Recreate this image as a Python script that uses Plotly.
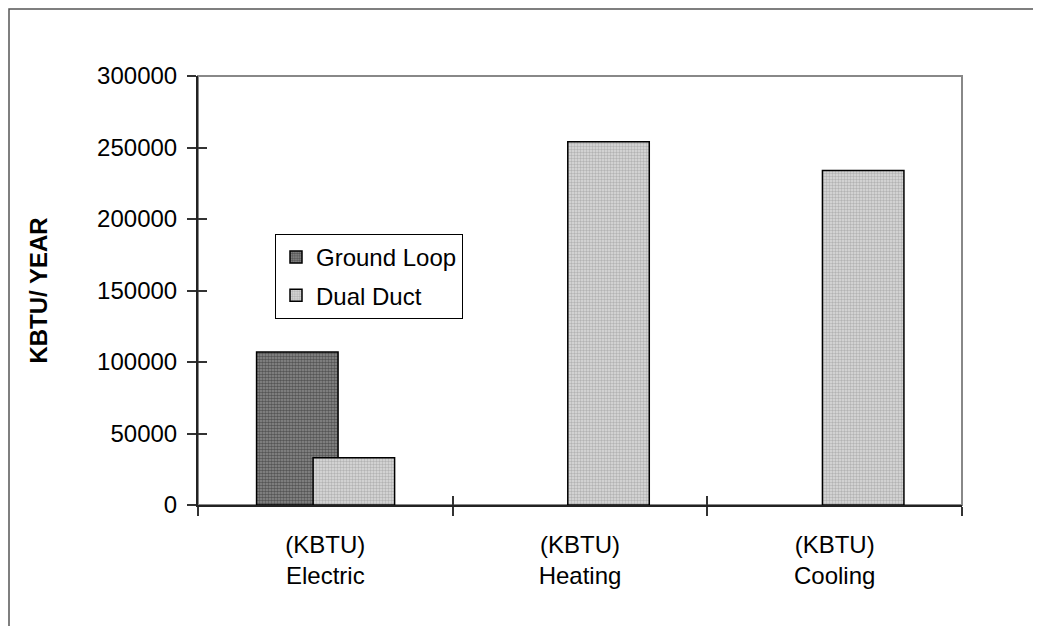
import plotly.graph_objects as go

categories = ["(KBTU)<br>Electric", "(KBTU)<br>Heating", "(KBTU)<br>Cooling"]
ground_loop = [107000, None, None]
dual_duct = [33000, 254000, 234000]
y_ticks = [0, 50000, 100000, 150000, 200000, 250000, 300000]

FONT = "Liberation Sans, Arial, sans-serif"

# plot area (figure px): left 190, right 954, top 68, bottom 497
L, R, T, B = 190, 954, 68, 497
PW, PH = R - L, B - T

fig = go.Figure()
fig.add_trace(go.Bar(
    x=categories, y=ground_loop, name="Ground Loop",
    width=0.32, offset=-0.27, legendgroup="g1",
    marker=dict(color="#6a6a6a", line=dict(color="black", width=1.5),
                pattern=dict(shape=".", size=3, solidity=0.55, fgcolor="#1e1e1e", bgcolor="#8c8c8c")),
))
fig.add_trace(go.Bar(
    x=categories, y=dual_duct, name="Dual Duct",
    width=0.32, offset=-0.048, legendgroup="g2",
    marker=dict(color="#c4c4c4", line=dict(color="black", width=1.5),
                pattern=dict(shape=".", size=3, solidity=0.5, fgcolor="#8a8a8a", bgcolor="#dcdcdc")),
))
# empty helper traces so the overlaying tick-only axes (cross ticks) get drawn
fig.add_trace(go.Scatter(x=[], y=[], xaxis="x2", yaxis="y", showlegend=False, hoverinfo="skip"))
fig.add_trace(go.Scatter(x=[], y=[], xaxis="x", yaxis="y2", showlegend=False, hoverinfo="skip"))

fig.update_layout(
    width=1041, height=626,
    margin=dict(l=L, r=1041 - R, t=T, b=626 - B, autoexpand=False),
    paper_bgcolor="white", plot_bgcolor="white",
    barmode="overlay",
    font=dict(family=FONT, size=24, color="black"),
    showlegend=True,
    legend=dict(x=(267 - L) / PW, y=(B - 226) / PH, xanchor="left", yanchor="top",
                bordercolor="black", borderwidth=1, bgcolor="white",
                traceorder="grouped", tracegroupgap=4,
                font=dict(family=FONT, size=24)),
    xaxis=dict(type="category", range=[-0.5, 2.5], tickson="boundaries",
               ticks="outside", ticklen=9, tickwidth=1.5, tickcolor="#333",
               showline=True, linecolor="#222", linewidth=2,
               showgrid=False, zeroline=False, ticklabelstandoff=17),
    xaxis2=dict(overlaying="x", type="linear", range=[-0.5, 2.5], tickvals=[-0.5, 0.5, 1.5, 2.5],
                ticks="inside", ticklen=9, tickwidth=1.5, tickcolor="#333",
                showticklabels=False, showline=False, showgrid=False, zeroline=False,
                anchor="y", side="bottom"),
    yaxis=dict(range=[0, 300000], tickvals=y_ticks, ticktext=[str(v) for v in y_ticks],
               ticks="outside", ticklen=9, tickwidth=1.5, tickcolor="#333",
               showline=True, linecolor="#222", linewidth=2,
               showgrid=False, zeroline=False, ticklabelstandoff=5,
               title=dict(text="<b>KBTU/ YEAR</b>", standoff=43,
                          font=dict(family=FONT, size=24))),
    yaxis2=dict(overlaying="y", type="linear", range=[0, 300000], tickvals=y_ticks,
                ticks="inside", ticklen=9, tickwidth=1.5, tickcolor="#333",
                showticklabels=False, showline=False, showgrid=False, zeroline=False,
                anchor="x", side="left"),
    shapes=[
        dict(type="rect", xref="paper", yref="paper",
             x0=(1 - L) / PW, y0=(B - 1) / PH, x1=1.5, y1=-0.6,
             line=dict(color="#555", width=1.5), layer="below"),
        dict(type="rect", xref="paper", yref="paper", x0=0, y0=0, x1=1, y1=1,
             line=dict(color="#888", width=2), layer="below"),
    ],
)

fig.write_html("out.html")
